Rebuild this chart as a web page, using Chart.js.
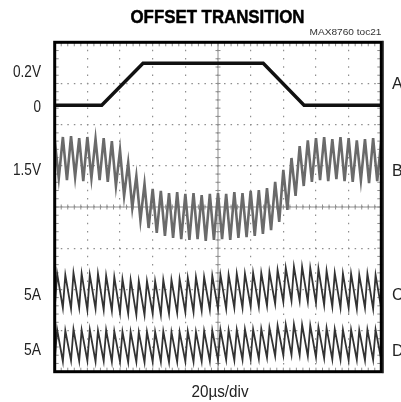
<!DOCTYPE html>
<html>
<head>
<meta charset="utf-8">
<script src="https://cdn.jsdelivr.net/npm/chart.js@4.4.1/dist/chart.umd.min.js"></script>
<style>
  html, body { margin: 0; padding: 0; background: #fff; }
  canvas { display: block; }
</style>
</head>
<body>
<canvas id="scope" width="401" height="402"></canvas>
<script>
// time base: 20us/div, 10 divisions; vertical: 8 divisions, values in divisions
const xTicksUs = [0, 20, 40, 60, 80, 100, 120, 140, 160, 180, 200];

// trace A: offset control (0 -> 0.2V step)
const aTimes = [0, 28.8, 54.1, 127.7, 152.7, 200];
const aValues = [6.47, 6.47, 7.49, 7.49, 6.47, 6.47];

// trace B: output voltage ripple, peak / trough samples
const bTimes = [
  0, 2.5, 5, 7.5, 10, 12.5, 15, 17.5, 20, 22.5,
  25, 27.5, 30, 32.5, 35, 37.5, 40, 42.5, 45, 47.5,
  50, 52.5, 55, 57.5, 60, 62.5, 65, 67.5, 70, 72.5,
  75, 77.5, 80, 82.5, 85, 87.5, 90, 92.5, 95, 97.5,
  100, 102.5, 105, 107.5, 110, 112.5, 115, 117.5, 120, 122.5,
  125, 127.5, 130, 132.5, 135, 137.5, 140, 142.5, 145, 147.5,
  150, 152.5, 155, 157.5, 160, 162.5, 165, 167.5, 170, 172.5,
  175, 177.5, 180, 182.5, 185, 187.5, 190, 192.5, 195, 197.5,
  200
];
const bValues = [
  5.62, 4.70, 5.70, 4.65, 5.72, 4.73, 5.67, 4.63, 5.70, 4.70,
  5.65, 4.65, 5.67, 4.61, 5.60, 4.51, 5.38, 4.27, 5.07, 3.98,
  4.75, 3.68, 4.56, 3.49, 4.44, 3.37, 4.39, 3.30, 4.34, 3.25,
  4.36, 3.22, 4.32, 3.20, 4.34, 3.22, 4.29, 3.18, 4.32, 3.20,
  4.34, 3.22, 4.32, 3.20, 4.36, 3.25, 4.34, 3.27, 4.39, 3.30,
  4.41, 3.35, 4.46, 3.44, 4.61, 3.64, 4.90, 3.93, 5.19, 4.27,
  5.48, 4.51, 5.62, 4.61, 5.67, 4.65, 5.70, 4.63, 5.65, 4.68,
  5.70, 4.63, 5.67, 4.61, 5.62, 4.65, 5.65, 4.58, 5.67, 4.63,
  5.62
];

// traces C, D: inductor currents, trough / peak samples
const iTimes = [
  0, 1.5, 5, 6.5, 10, 11.5, 15, 16.5, 20, 21.5,
  25, 26.5, 30, 31.5, 35, 36.5, 40, 41.5, 45, 46.5,
  50, 51.5, 55, 56.5, 60, 61.5, 65, 66.5, 70, 71.5,
  75, 76.5, 80, 81.5, 85, 86.5, 90, 91.5, 95, 96.5,
  100, 101.5, 105, 106.5, 110, 111.5, 115, 116.5, 120, 121.5,
  125, 126.5, 130, 131.5, 135, 136.5, 140, 141.5, 145, 146.5,
  150, 151.5, 155, 156.5, 160, 161.5, 165, 166.5, 170, 171.5,
  175, 176.5, 180, 181.5, 185, 186.5, 190, 191.5, 195, 196.5,
  200
];
const cValues = [
  1.53, 2.38, 1.55, 2.35, 1.53, 2.40, 1.55, 2.38, 1.50, 2.35,
  1.53, 2.38, 1.50, 2.33, 1.48, 2.30, 1.43, 2.25, 1.41, 2.23,
  1.38, 2.20, 1.38, 2.20, 1.41, 2.20, 1.38, 2.23, 1.41, 2.23,
  1.43, 2.25, 1.45, 2.28, 1.45, 2.30, 1.48, 2.30, 1.50, 2.33,
  1.53, 2.35, 1.53, 2.35, 1.55, 2.38, 1.55, 2.38, 1.58, 2.40,
  1.58, 2.40, 1.60, 2.42, 1.65, 2.47, 1.70, 2.52, 1.72, 2.55,
  1.72, 2.55, 1.70, 2.52, 1.67, 2.50, 1.62, 2.45, 1.58, 2.40,
  1.55, 2.38, 1.55, 2.38, 1.53, 2.35, 1.55, 2.38, 1.53, 2.35,
  1.53
];
const dValues = [
  0.27, 1.02, 0.25, 1.00, 0.27, 1.03, 0.26, 1.01, 0.27, 1.02,
  0.25, 1.00, 0.26, 1.01, 0.24, 0.98, 0.24, 0.97, 0.23, 0.97,
  0.24, 0.96, 0.23, 0.97, 0.24, 0.97, 0.24, 0.98, 0.23, 0.96,
  0.24, 0.97, 0.25, 0.98, 0.24, 0.97, 0.25, 0.99, 0.26, 1.00,
  0.28, 1.02, 0.29, 1.01, 0.28, 1.02, 0.29, 1.03, 0.30, 1.03,
  0.31, 1.04, 0.34, 1.07, 0.38, 1.12, 0.40, 1.14, 0.41, 1.15,
  0.40, 1.14, 0.38, 1.12, 0.35, 1.08, 0.33, 1.06, 0.30, 1.03,
  0.29, 1.02, 0.28, 1.02, 0.29, 1.01, 0.28, 1.02, 0.29, 1.02,
  0.28
];

// channel scale labels (left) and channel names (right)
const leftLabels = ['0.2V', '0', '1.5V', '5A', '5A'];
const rightLabels = ['A', 'B', 'C', 'D'];

const NARROW = "'Liberation Sans Narrow', 'Liberation Sans', Arial, sans-serif";

function toPoints(times, values) {
    return times.map((t, i) => ({ x: t, y: values[i] }));
}

// draw text squeezed/stretched to a given width
function fitText(ctx, text, x, y, width, font, align, weight) {
    ctx.font = font;
    const w = ctx.measureText(text).width;
    ctx.save();
    ctx.translate(x, y);
    ctx.scale(width / w, 1);
    ctx.textAlign = align;
    ctx.textBaseline = 'alphabetic';
    ctx.fillText(text, 0, 0);
    if (weight) {
        ctx.strokeStyle = ctx.fillStyle;
        ctx.lineWidth = weight;
        ctx.lineJoin = 'round';
        ctx.strokeText(text, 0, 0);
    }
    ctx.restore();
}

const scopePlugin = {
    id: 'scopeDecor',
    beforeDatasetsDraw(chart) {
        const { ctx, chartArea: a, scales: { x, y } } = chart;
        ctx.save();
        ctx.strokeStyle = '#8e8e8e';
        ctx.lineWidth = 1;
        const cx = x.getPixelForValue(100);
        const cy = y.getPixelForValue(4);
        ctx.beginPath();
        ctx.moveTo(cx, a.top); ctx.lineTo(cx, a.bottom);
        ctx.moveTo(a.left, cy); ctx.lineTo(a.right, cy);
        // minor ticks on centre lines and along the frame
        for (let m = 0; m <= 50; m++) {
            const px = x.getPixelForValue(m * 4);
            ctx.moveTo(px, cy - 2.5); ctx.lineTo(px, cy + 2.5);
            ctx.moveTo(px, a.top); ctx.lineTo(px, a.top + 4);
            ctx.moveTo(px, a.bottom); ctx.lineTo(px, a.bottom - 4);
        }
        for (let m = 0; m <= 40; m++) {
            const py = y.getPixelForValue(m * 0.2);
            ctx.moveTo(cx - 2.5, py); ctx.lineTo(cx + 2.5, py);
            ctx.moveTo(a.left, py); ctx.lineTo(a.left + 4, py);
            ctx.moveTo(a.right, py); ctx.lineTo(a.right - 4, py);
        }
        ctx.stroke();
        ctx.restore();
    },
    afterDraw(chart) {
        const { ctx, chartArea: a } = chart;
        ctx.save();
        // frame
        ctx.strokeStyle = '#000';
        ctx.lineWidth = 3;
        ctx.strokeRect(a.left, a.top, a.right - a.left, a.bottom - a.top);
        ctx.lineWidth = 1.2;
        ctx.beginPath();
        ctx.moveTo(a.right + 1.8, a.top - 1.5); ctx.lineTo(a.right + 1.8, a.bottom + 1.5);
        ctx.stroke();

        ctx.fillStyle = '#000';
        fitText(ctx, 'OFFSET TRANSITION', 217.5, 23, 174, 'bold 19px ' + NARROW, 'center', 0.5);
        ctx.fillStyle = '#333';
        fitText(ctx, 'MAX8760 toc21', 381.5, 35, 72, '9px ' + NARROW, 'right');

        ctx.fillStyle = '#222';
        const leftBase = [77, 112, 175, 300, 355];
        const leftW = [28, 7.5, 28, 17, 17];
        leftLabels.forEach((t, i) => fitText(ctx, t, 41, leftBase[i], leftW[i], '16px ' + NARROW, 'right'));
        const rightBase = [89, 176, 300, 356];
        ctx.font = '16px ' + NARROW;
        ctx.textAlign = 'left';
        ctx.textBaseline = 'alphabetic';
        rightLabels.forEach((t, i) => ctx.fillText(t, 392, rightBase[i]));
        fitText(ctx, '20\u00b5s/div', 220, 397, 57, '16px ' + NARROW, 'center');
        ctx.restore();
    }
};

new Chart(document.getElementById('scope').getContext('2d'), {
    type: 'line',
    data: {
        datasets: [
            { label: 'B', data: toPoints(bTimes, bValues), borderColor: '#6a6a6a', borderWidth: 2.6 },
            { label: 'C', data: toPoints(iTimes, cValues), borderColor: '#333', borderWidth: 1.8 },
            { label: 'D', data: toPoints(iTimes, dValues), borderColor: '#333', borderWidth: 1.8 },
            { label: 'A', data: toPoints(aTimes, aValues), borderColor: '#111', borderWidth: 3.4 },
        ],
    },
    options: {
        responsive: false,
        animation: false,
        devicePixelRatio: 1,
        layout: { padding: { left: 54.7, top: 42.3, right: 19.7, bottom: 30.3 } },
        elements: { point: { radius: 0 }, line: { tension: 0, borderJoinStyle: 'miter' } },
        plugins: { legend: { display: false }, tooltip: { enabled: false }, title: { display: false } },
        scales: {
            x: {
                type: 'linear', min: 0, max: 200,
                afterBuildTicks: (s) => { s.ticks = xTicksUs.map(v => ({ value: v })); },
                ticks: { display: false },
                grid: { color: '#8e8e8e', lineWidth: 1.2, drawTicks: false },
                border: { display: false, dash: [1.5, 6.74], dashOffset: 0.75 },
            },
            y: {
                type: 'linear', min: 0, max: 8,
                ticks: { display: false, stepSize: 1 },
                grid: { color: '#8e8e8e', lineWidth: 1.2, drawTicks: false },
                border: { display: false, dash: [1.5, 5.03], dashOffset: 0.75 },
            },
        },
    },
    plugins: [scopePlugin],
});
</script>
</body>
</html>
